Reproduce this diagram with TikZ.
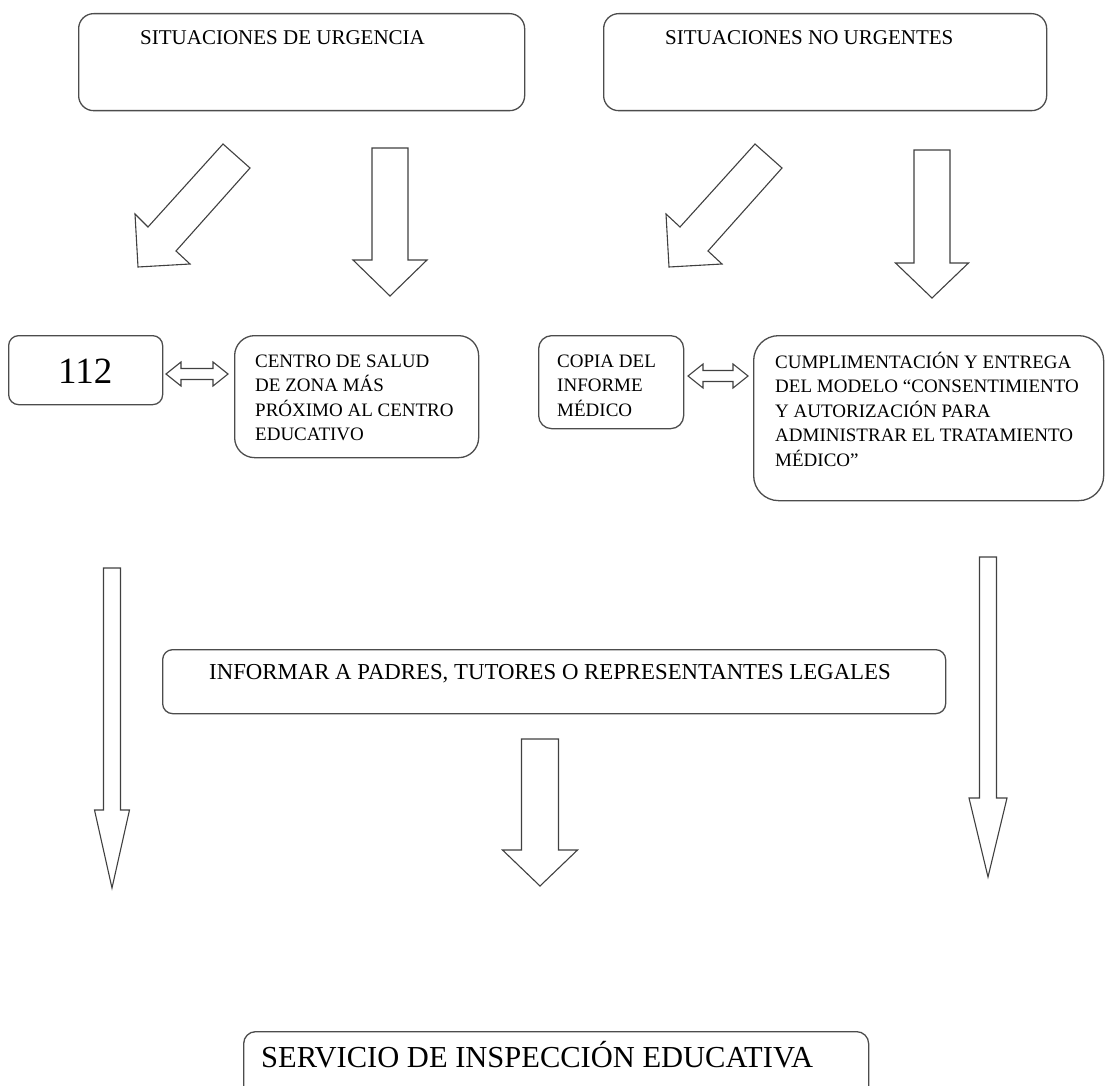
\documentclass[tikz,border=0pt]{standalone}
\usepackage{fontspec}
\setmainfont{Liberation Serif}

\tikzset{
  roundbox/.style={draw=black!70, line width=1.3pt, rounded corners=#1, inner sep=0pt, anchor=north west},
  roundbox/.default=12pt,
  boxtext/.style={anchor=base west, align=left, inner sep=0pt, font=\fontsize{19}{24.5}\selectfont},
  blockarrow/.style={draw=black!75, line width=1.1pt, fill=white, line join=miter},
}

% x centre, y top, y head base, y tip, half shaft, half head
\newcommand{\downblock}[6]{
  \draw[blockarrow] ({#1-#5},#2) -- ({#1+#5},#2) -- ({#1+#5},#3) -- ({#1+#6},#3)
    -- (#1,#4) -- ({#1-#6},#3) -- ({#1-#5},#3) -- cycle;
}
% x left, x right, y centre
\newcommand{\bothblock}[3]{
  \draw[blockarrow] (#1,#3) -- ({#1+15},{#3-12}) -- ({#1+15},{#3-5.5}) -- ({#2-15},{#3-5.5})
    -- ({#2-15},{#3-12}) -- (#2,#3) -- ({#2-15},{#3+12}) -- ({#2-15},{#3+5.5})
    -- ({#1+15},{#3+5.5}) -- ({#1+15},{#3+12}) -- cycle;
}

\begin{document}
\begin{tikzpicture}[x=1pt,y=-1pt]
\useasboundingbox (0,0) rectangle (1105,1086);
\clip (0,0) rectangle (1105,1086);

\node[roundbox=15pt, minimum width=446, minimum height=97] (urgbox) at (78,13) {};
\node[boxtext, font=\fontsize{21}{25}\selectfont] (urgtext) at (140,45) {SITUACIONES DE URGENCIA};

\node[roundbox=15pt, minimum width=443, minimum height=97] (nourgbox) at (603,13) {};
\node[boxtext, font=\fontsize{21}{25}\selectfont] (nourgtext) at (665,45) {SITUACIONES NO URGENTES};

\draw[blockarrow] (223,144) -- (250,168) -- (176,251) -- (190,264) -- (138,267) -- (135,214) -- (148,227) -- cycle;
\downblock{390}{148}{260}{296}{18}{37}

\draw[blockarrow] (755,144) -- (782,168) -- (708,251) -- (722,264) -- (669,267) -- (666,214) -- (680,227) -- cycle;
\downblock{932}{150}{263}{298}{18}{36.5}

\node[roundbox=10pt, minimum width=154, minimum height=69] (emerg) at (8,335) {};
\node[boxtext, font=\fontsize{37}{40}\selectfont] (emergtext) at (58,383) {112};
\bothblock{166}{228}{374}

\node[roundbox=20pt, minimum width=244, minimum height=122] (salud) at (234,335) {};
\node[boxtext] (saludtext) at (255,440.5) {CENTRO DE SALUD\\DE ZONA MÁS\\PRÓXIMO AL CENTRO\\EDUCATIVO};

\node[roundbox=13pt, minimum width=145, minimum height=93] (copia) at (538,335) {};
\node[boxtext] (copiatext) at (557,416) {COPIA DEL\\INFORME\\MÉDICO};
\bothblock{688}{748}{376}

\node[roundbox=25pt, minimum width=350, minimum height=165] (consent) at (753,335) {};
\node[boxtext] (consenttext) at (775,466) {CUMPLIMENTACIÓN Y ENTREGA\\DEL MODELO “CONSENTIMIENTO\\Y AUTORIZACIÓN PARA\\ADMINISTRAR EL TRATAMIENTO\\MÉDICO”};

\downblock{112}{568}{810}{888}{8.5}{17.5}
\downblock{988}{557}{798}{877}{8.5}{19}

\node[roundbox=10pt, minimum width=783, minimum height=64] (informar) at (162,649) {};
\node[boxtext, font=\fontsize{22.8}{26}\selectfont] (informartext) at (209,679) {INFORMAR A PADRES, TUTORES O REPRESENTANTES LEGALES};

\downblock{540}{739}{850}{886}{18.5}{37.5}

\node[roundbox=12pt, minimum width=625, minimum height=90] (inspeccion) at (243,1031) {};
\node[boxtext, font=\fontsize{30.5}{34}\selectfont] (inspecciontext) at (261,1067) {SERVICIO DE INSPECCIÓN EDUCATIVA};

\end{tikzpicture}
\end{document}
